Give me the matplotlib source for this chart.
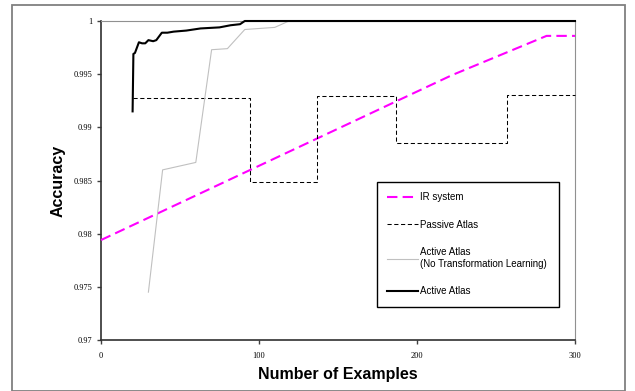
import matplotlib
matplotlib.use("Agg")
import matplotlib.pyplot as plt
from matplotlib.patches import Rectangle

# IR system (linear-ish growth, then flat)
ir_x = [0, 222, 282, 300]
ir_y = [0.9794, 0.9949, 0.9986, 0.9986]

# Passive Atlas (step shape)
passive_x = [20, 94, 94, 137, 137, 187, 187, 257, 257, 300]
passive_y = [0.9928, 0.9928, 0.9849, 0.9849, 0.9929, 0.9929, 0.9885, 0.9885, 0.9930, 0.9930]

# Active Atlas (No Transformation Learning)
ntl_x = [30, 39, 60, 70, 80, 91, 110, 119, 300]
ntl_y = [0.9745, 0.9860, 0.9867, 0.9973, 0.9974, 0.9992, 0.9994, 1.0, 1.0]

# Active Atlas
active_x = [20, 20.5, 21.5, 24, 26, 28, 30, 33, 35, 37, 38.5, 42, 46, 54, 63, 75, 82, 88, 91, 300]
active_y = [0.9915, 0.9969, 0.9970, 0.9980, 0.9979, 0.9979, 0.9982, 0.9981, 0.9982, 0.9986,
            0.9989, 0.9989, 0.9990, 0.9991, 0.9993, 0.9994, 0.9996, 0.9997, 1.0, 1.0]

y_ticks = [0.97, 0.975, 0.98, 0.985, 0.99, 0.995, 1.0]
y_labels = ["0.97", "0.975", "0.98", "0.985", "0.99", "0.995", "1"]
x_ticks = [0, 100, 200, 300]

fig = plt.figure(figsize=(6.35, 3.91), dpi=100)
fig.patches.append(Rectangle((12 / 635, 0), 613 / 635, 386 / 391, transform=fig.transFigure,
                             fill=False, edgecolor="#808080", lw=1.3))
ax = fig.add_axes([101 / 635, 51 / 391, 474 / 635, 319 / 391])

ax.plot(ir_x, ir_y, color="#FF00FF", lw=1.5, ls=(0, (5, 2.5)), label="IR system",
        clip_on=False, zorder=3)
ax.plot(passive_x, passive_y, color="black", lw=0.75, ls=(0, (4, 2.5)), label="Passive Atlas",
        clip_on=False, zorder=3)
ax.plot(ntl_x, ntl_y, color="#C0C0C0", lw=0.8,
        label="Active Atlas\n(No Transformation Learning)", clip_on=False, zorder=3)
ax.plot(active_x, active_y, color="black", lw=1.5, label="Active Atlas",
        clip_on=False, zorder=4)

ax.set_xlim(0, 300)
ax.set_ylim(0.97, 1.0)
ax.set_xticks(x_ticks)
ax.set_yticks(y_ticks)
ax.set_yticklabels(y_labels)
for lab in ax.get_xticklabels() + ax.get_yticklabels():
    lab.set_family("Liberation Serif")
    lab.set_fontsize(6)
ax.tick_params(axis="both", direction="out", length=3, width=1, color="#404040")
ax.tick_params(axis="y", pad=3)
ax.tick_params(axis="x", pad=6)

for s in ("top", "right"):
    ax.spines[s].set_color("#909090")
    ax.spines[s].set_linewidth(0.8)
for s in ("left", "bottom"):
    ax.spines[s].set_color("#303030")
    ax.spines[s].set_linewidth(1.2)

ax.set_xlabel("Number of Examples", family="Liberation Sans", fontsize=11.5,
              fontweight="bold", labelpad=5)
ax.set_ylabel("Accuracy", family="Liberation Sans", fontsize=11.5,
              fontweight="bold", labelpad=6)

leg = ax.legend(loc="upper left", bbox_to_anchor=(0.582, 0.095, 0.384, 0.4),
                mode="expand", prop={"family": "Liberation Sans", "size": 7},
                frameon=True, fancybox=False, edgecolor="black", framealpha=1,
                handlelength=3.15, handletextpad=0.2, labelspacing=1.8,
                borderpad=1.05, borderaxespad=0)
leg.get_frame().set_linewidth(1.0)
leg.set_zorder(5)

fig.savefig("out.png", dpi=100)
